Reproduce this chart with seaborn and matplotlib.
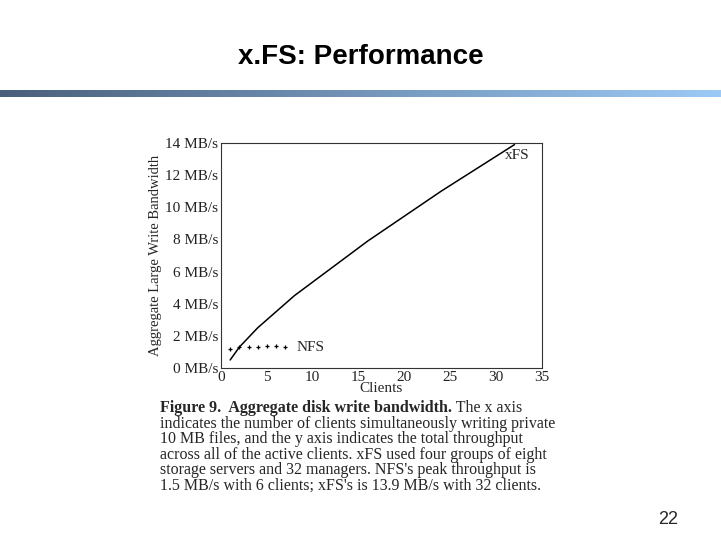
import matplotlib
matplotlib.use('Agg')
import matplotlib.pyplot as plt
import seaborn as sns
import numpy as np
import pandas as pd

# Data
xfs_clients = [1, 2, 4, 8, 16, 24, 32]
xfs_bw = [0.5, 1.3, 2.5, 4.5, 7.9, 11.0, 13.9]
nfs_clients = [1, 2, 3, 4, 5, 6, 7]
nfs_bw = [1.2, 1.3, 1.3, 1.3, 1.35, 1.35, 1.3]
y_ticks = [0, 2, 4, 6, 8, 10, 12, 14]
x_ticks = [0, 5, 10, 15, 20, 25, 30, 35]

caption_bold = "Figure 9.  Aggregate disk write bandwidth."
caption = [
    " The x axis",
    "indicates the number of clients simultaneously writing private",
    "10 MB files, and the y axis indicates the total throughput",
    "across all of the active clients. xFS used four groups of eight",
    "storage servers and 32 managers. NFS's peak throughput is",
    "1.5 MB/s with 6 clients; xFS's is 13.9 MB/s with 32 clients.",
]

sns.set_style("white")
plt.rcParams['font.family'] = ['Liberation Serif', 'DejaVu Serif']

fig = plt.figure(figsize=(7.21, 5.41), dpi=100)

# title and gradient rule
fig.text(0.5, 1 - 57 / 541, "x.FS: Performance", ha='center', va='center',
         fontsize=20, weight='bold', family=['Liberation Sans', 'DejaVu Sans'], color='black')
bar = fig.add_axes([0, 1 - 97 / 541, 1, 7 / 541])
grad = np.linspace(0, 1, 256)[None, :]
cmap = matplotlib.colors.LinearSegmentedColormap.from_list("g", ["#4a5f7c", "#9ccaf6"])
bar.imshow(grad, aspect='auto', cmap=cmap)
bar.axis('off')

ax = fig.add_axes([221 / 721, 1 - 368 / 541, 321 / 721, 225 / 541])
df_x = pd.DataFrame({"Clients": xfs_clients, "bw": xfs_bw})
df_n = pd.DataFrame({"Clients": nfs_clients, "bw": nfs_bw})
sns.lineplot(data=df_x, x="Clients", y="bw", ax=ax, color='black', lw=1.1)
sns.lineplot(data=df_n, x="Clients", y="bw", ax=ax, color='black', linestyle='',
             marker='+', markersize=3, markeredgewidth=0.9, markeredgecolor='black')
ax.set_xlim(0, 35)
ax.set_ylim(0, 14)
ax.set_xticks(x_ticks)
ax.set_yticks(y_ticks)
ax.set_yticklabels([f"{v} MB/s" for v in y_ticks])
ax.tick_params(labelsize=11, length=3, direction='in', pad=2, colors='#222222')
ax.set_xlabel("Clients", fontsize=11, labelpad=-1)
ax.set_ylabel("Aggregate Large Write Bandwidth", fontsize=10.5, labelpad=2)
for s in ax.spines.values():
    s.set_color('#333333')
    s.set_linewidth(0.8)
ax.text(32.3, 13.0, "xFS", fontsize=11, ha='center')
ax.text(8.2, 1.3, "NFS", fontsize=11, va='center')

y0 = 408
fs = 11.5
tb = fig.text(160 / 721, 1 - y0 / 541, caption_bold, fontsize=fs, weight='bold', va='center')
fig.canvas.draw()
bb = tb.get_window_extent(fig.canvas.get_renderer())
for i, line in enumerate(caption):
    y = 1 - (y0 + i * 15.6) / 541
    x = bb.x1 / fig.bbox.width if i == 0 else 160 / 721
    fig.text(x, y, line, fontsize=fs, va='center')

fig.text(668 / 721, 1 - 520 / 541, "22", fontsize=13, ha='center', va='center',
         family=['Liberation Sans', 'DejaVu Sans'])

fig.savefig("out.png", dpi=100, facecolor='white')
